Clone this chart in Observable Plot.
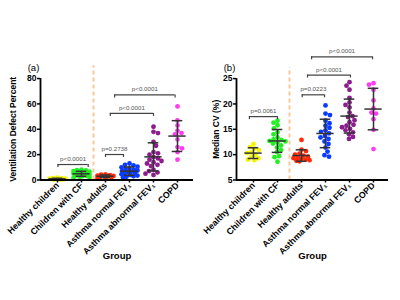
<!DOCTYPE html>
<html><head><meta charset="utf-8">
<script src="https://cdn.jsdelivr.net/npm/d3@7"></script>
<script src="https://cdn.jsdelivr.net/npm/@observablehq/plot@0.6"></script>
<style>
body{margin:0;background:#fff;}
#wrap{display:flex;width:400px;height:300px;}
</style></head>
<body><div id="wrap"></div>
<script>
const categories = ["Healthy children","Children with CF","Healthy adults","Asthma normal FEV₁","Asthma abnormal FEV₁","COPD"];
const colors = ["#f4f400","#22f022","#ff2a0a","#0a3cff","#8c1d8c","#ff3cf0"];

// Panel (a): Ventilation Defect Percent
const vdpHealthyChildren = [1.8,1.5,1.3,1.1,1.0,0.9,0.8,0.7,0.6,0.5,0.4,0.3];
const vdpChildrenCF = [8.2,7.8,7.5,7.0,6.6,6.2,5.8,5.5,5.2,5.0,4.7,4.4,4.1,3.8,3.5,3.2,2.9,2.5,2.1,1.6];
const vdpHealthyAdults = [4.5,4.2,3.8,3.5,3.2,3.0,2.7,2.4,2.1,1.8,1.5];
const vdpAsthmaNormal = [13,12,11.5,10.5,10,9,8.5,8,7.5,7,6.5,6,5.5,5,4.5,4,3.5,3,2.5,2];
const vdpAsthmaAbnormal = [42,38,37,30,27,22,21,20,18,17,16,15,14,13,12,11,8,7,6,5,4];
const vdpCOPD = [58,47,43,39,37,36,32,26,25,22,16];

// Panel (b): Median CV (%)
const cvHealthyChildren = [12.1,11.5,11.2,10.9,10.5,10.3,10.0,9.6,9.3,9.0,8.9];
const cvChildrenCF = [16.7,16.3,15.8,15.2,14.4,14.0,13.4,13.0,12.9,12.7,12.6,12.4,12.2,11.8,11.4,10.9,10.5,9.7,9.5,8.6];
const cvHealthyAdults = [12.9,11.0,10.7,10.2,10.0,9.8,9.6,9.5,9.3,9.2,9.0,8.9,8.8,8.7];
const cvAsthmaNormal = [19.7,18.1,17.8,16.7,16.2,15.7,15.3,14.8,14.5,14.2,13.7,13.4,13.1,12.6,12.1,11.4,10.6,9.9,9.6];
const cvAsthmaAbnormal = [24.3,23.6,22.8,21.2,20.3,19.8,19.3,18.3,17.6,17.4,16.8,16.4,15.9,15.7,15.4,15.1,14.8,14.4,14.0,13.1,13.5];
const cvCOPD = [24.1,23.8,22.8,20.7,19.1,18.3,18.1,17.0,14.9,11.1];

// Significance brackets (category-index span, height, label)
const vdpBracketFrom = [0.02, 2.0, 2.2, 2.38];
const vdpBracketTo = [1.28, 2.75, 4.0, 4.9];
const vdpBracketY = [12.2, 20.1, 52.5, 67.1];
const vdpBracketLabel = ["p<0.0001","p=0.2738","p<0.0001","p<0.0001"];
const cvBracketFrom = [-0.17, 2.03, 2.25, 2.42];
const cvBracketTo = [1.0, 2.96, 4.04, 4.96];
const cvBracketY = [17.5, 21.8, 25.7, 29.3];
const cvBracketLabel = ["p=0.0061","p=0.0223","p<0.0001","p<0.0001"];

const vdpTicks = [0,20,40,60,80];
const cvTicks = [5,10,15,20,25];

// deterministic beeswarm offsets (pixels), capped half-width like Prism scatter
function swarm(vals, pxY, r, maxHalf) {
  const idx = d3.range(vals.length).sort((a,b)=>vals[b]-vals[a]);
  const cands = [0];
  for (let k = 0.5; k <= maxHalf; k += 0.5) { cands.push(k, -k); }
  const placed = []; const off = new Array(vals.length);
  const need = (2*r*0.92)**2;
  idx.forEach((i, n) => {
    const y = vals[i]*pxY;
    const flip = n%2 ? -1 : 1;
    let best = null, bestD = -1;
    for (const c0 of cands) {
      const c = c0*flip;
      let dmin = Infinity;
      for (const p of placed) { const d = (p.x-c)**2 + (p.y-y)**2; if (d < dmin) dmin = d; }
      if (dmin >= need) { best = c; bestD = Infinity; break; }
      if (dmin > bestD + 0.01) { bestD = dmin; best = c; }
    }
    placed.push({x: best, y}); off[i] = best;
  });
  return off;
}

function panel(o) {
  const W = 200, H = 300, MT = 40, MB = 120.5;
  const fw = W - o.ml - o.mr, fh = H - MT - MB;
  const pxX = fw/(o.xd[1]-o.xd[0]), pxY = fh/(o.yd[1]-o.yd[0]);
  const r = 2.4;
  const pts = [];
  const stats = [];
  o.series.forEach((vals, c) => {
    const off = swarm(vals, pxY, r, 8);
    vals.forEach((v, j) => pts.push({x: c + off[j]/pxX, y: v, fill: colors[c]}));
    const m = d3.mean(vals), s = d3.deviation(vals);
    stats.push({c, m, lo: m - s, hi: m + s});
  });
  const br = o.bFrom.map((f, i) => ({x1: f, x2: o.bTo[i], y: o.bY[i], label: o.bLabel[i]}));
  const tick = 3/pxY;
  const xmin = o.xd[0], y0 = o.yd[0];
  const amax = o.ticks[o.ticks.length-1];
  const amid = (o.ticks[0]+amax)/2;
  return Plot.plot({
    width: W, height: H, marginLeft: o.ml, marginRight: o.mr, marginTop: MT, marginBottom: MB,
    x: {domain: o.xd}, y: {domain: o.yd},
    color: {type: "identity"},
    style: {fontFamily: "'Liberation Sans', Arial, sans-serif", fontSize: "9px", fontWeight: "bold", background: "#fff", overflow: "visible"},
    marks: [
      Plot.ruleX([1.5], {y1: y0, y2: o.divTop, stroke: "#f8c79a", strokeWidth: 2, strokeDasharray: "4,3"}),
      Plot.dot(pts, {x: "x", y: "y", fill: "fill", r: r, stroke: null}),
      Plot.ruleX(stats, {x: "c", y1: "lo", y2: "hi", stroke: "#333", strokeWidth: 1.5}),
      Plot.ruleY(stats, {y: "m", x1: d => d.c - 0.36, x2: d => d.c + 0.36, stroke: "#333", strokeWidth: 1.5}),
      Plot.ruleY(stats, {y: "hi", x1: d => d.c - 0.22, x2: d => d.c + 0.22, stroke: "#333", strokeWidth: 1.5}),
      Plot.ruleY(stats, {y: "lo", x1: d => d.c - 0.22, x2: d => d.c + 0.22, stroke: "#333", strokeWidth: 1.5}),
      Plot.ruleY(br, {y: "y", x1: "x1", x2: "x2", stroke: "#444", strokeWidth: 1.2}),
      Plot.ruleX(br, {x: "x1", y1: "y", y2: d => d.y - tick, stroke: "#444", strokeWidth: 1.2}),
      Plot.ruleX(br, {x: "x2", y1: "y", y2: d => d.y - tick, stroke: "#444", strokeWidth: 1.2}),
      Plot.text(br, {x: d => (d.x1+d.x2)/2, y: "y", text: "label", dy: -5.5, fontSize: 6.2, fontWeight: "normal", fill: "#555"}),
      Plot.ruleX([xmin], {y1: y0, y2: amax, stroke: "#000", strokeWidth: 1.8}),
      Plot.ruleY([y0], {stroke: "#000", strokeWidth: 1.8}),
      Plot.axisY({ticks: o.ticks, tickSize: 3, tickPadding: 1, strokeWidth: 1.5, fontSize: 8.5, fontWeight: "bold", label: null}),
      Plot.axisX({ticks: d3.range(6), tickFormat: i => categories[i], tickRotate: -45, tickSize: 3, tickPadding: 1, strokeWidth: 1.5, fontSize: 8.8, fontWeight: "bold", label: null}),
      Plot.text([o.ylabel], {x: xmin, y: amid, text: d => d, rotate: -90, dx: o.ylDx, fontSize: 8.5, fontWeight: "bold"}),
      Plot.text([o.panelLabel], {x: xmin, y: amax, text: d => d, dx: -7, dy: -11, fontSize: 9.5, fontWeight: "normal"}),
      Plot.text(["Group"], {frameAnchor: "bottom", text: d => d, dy: 78.5, fontSize: 9.5, fontWeight: "bold"})
    ]
  });
}

const wrap = document.getElementById("wrap");
wrap.appendChild(panel({
  ml: 40, mr: 7, xd: [-0.708, 5.667], yd: [0, 110], ticks: vdpTicks, divTop: 90,
  series: [vdpHealthyChildren, vdpChildrenCF, vdpHealthyAdults, vdpAsthmaNormal, vdpAsthmaAbnormal, vdpCOPD],
  bFrom: vdpBracketFrom, bTo: vdpBracketTo, bY: vdpBracketY, bLabel: vdpBracketLabel,
  ylabel: "Ventilation Defect Percent", ylDx: -27, panelLabel: "(a)"
}));
wrap.appendChild(panel({
  ml: 36, mr: 12, xd: [-0.708, 5.625], yd: [5, 32.51], ticks: cvTicks, divTop: 27.2,
  series: [cvHealthyChildren, cvChildrenCF, cvHealthyAdults, cvAsthmaNormal, cvAsthmaAbnormal, cvCOPD],
  bFrom: cvBracketFrom, bTo: cvBracketTo, bY: cvBracketY, bLabel: cvBracketLabel,
  ylabel: "Median CV (%)", ylDx: -20, panelLabel: "(b)"
}));
</script></body></html>
